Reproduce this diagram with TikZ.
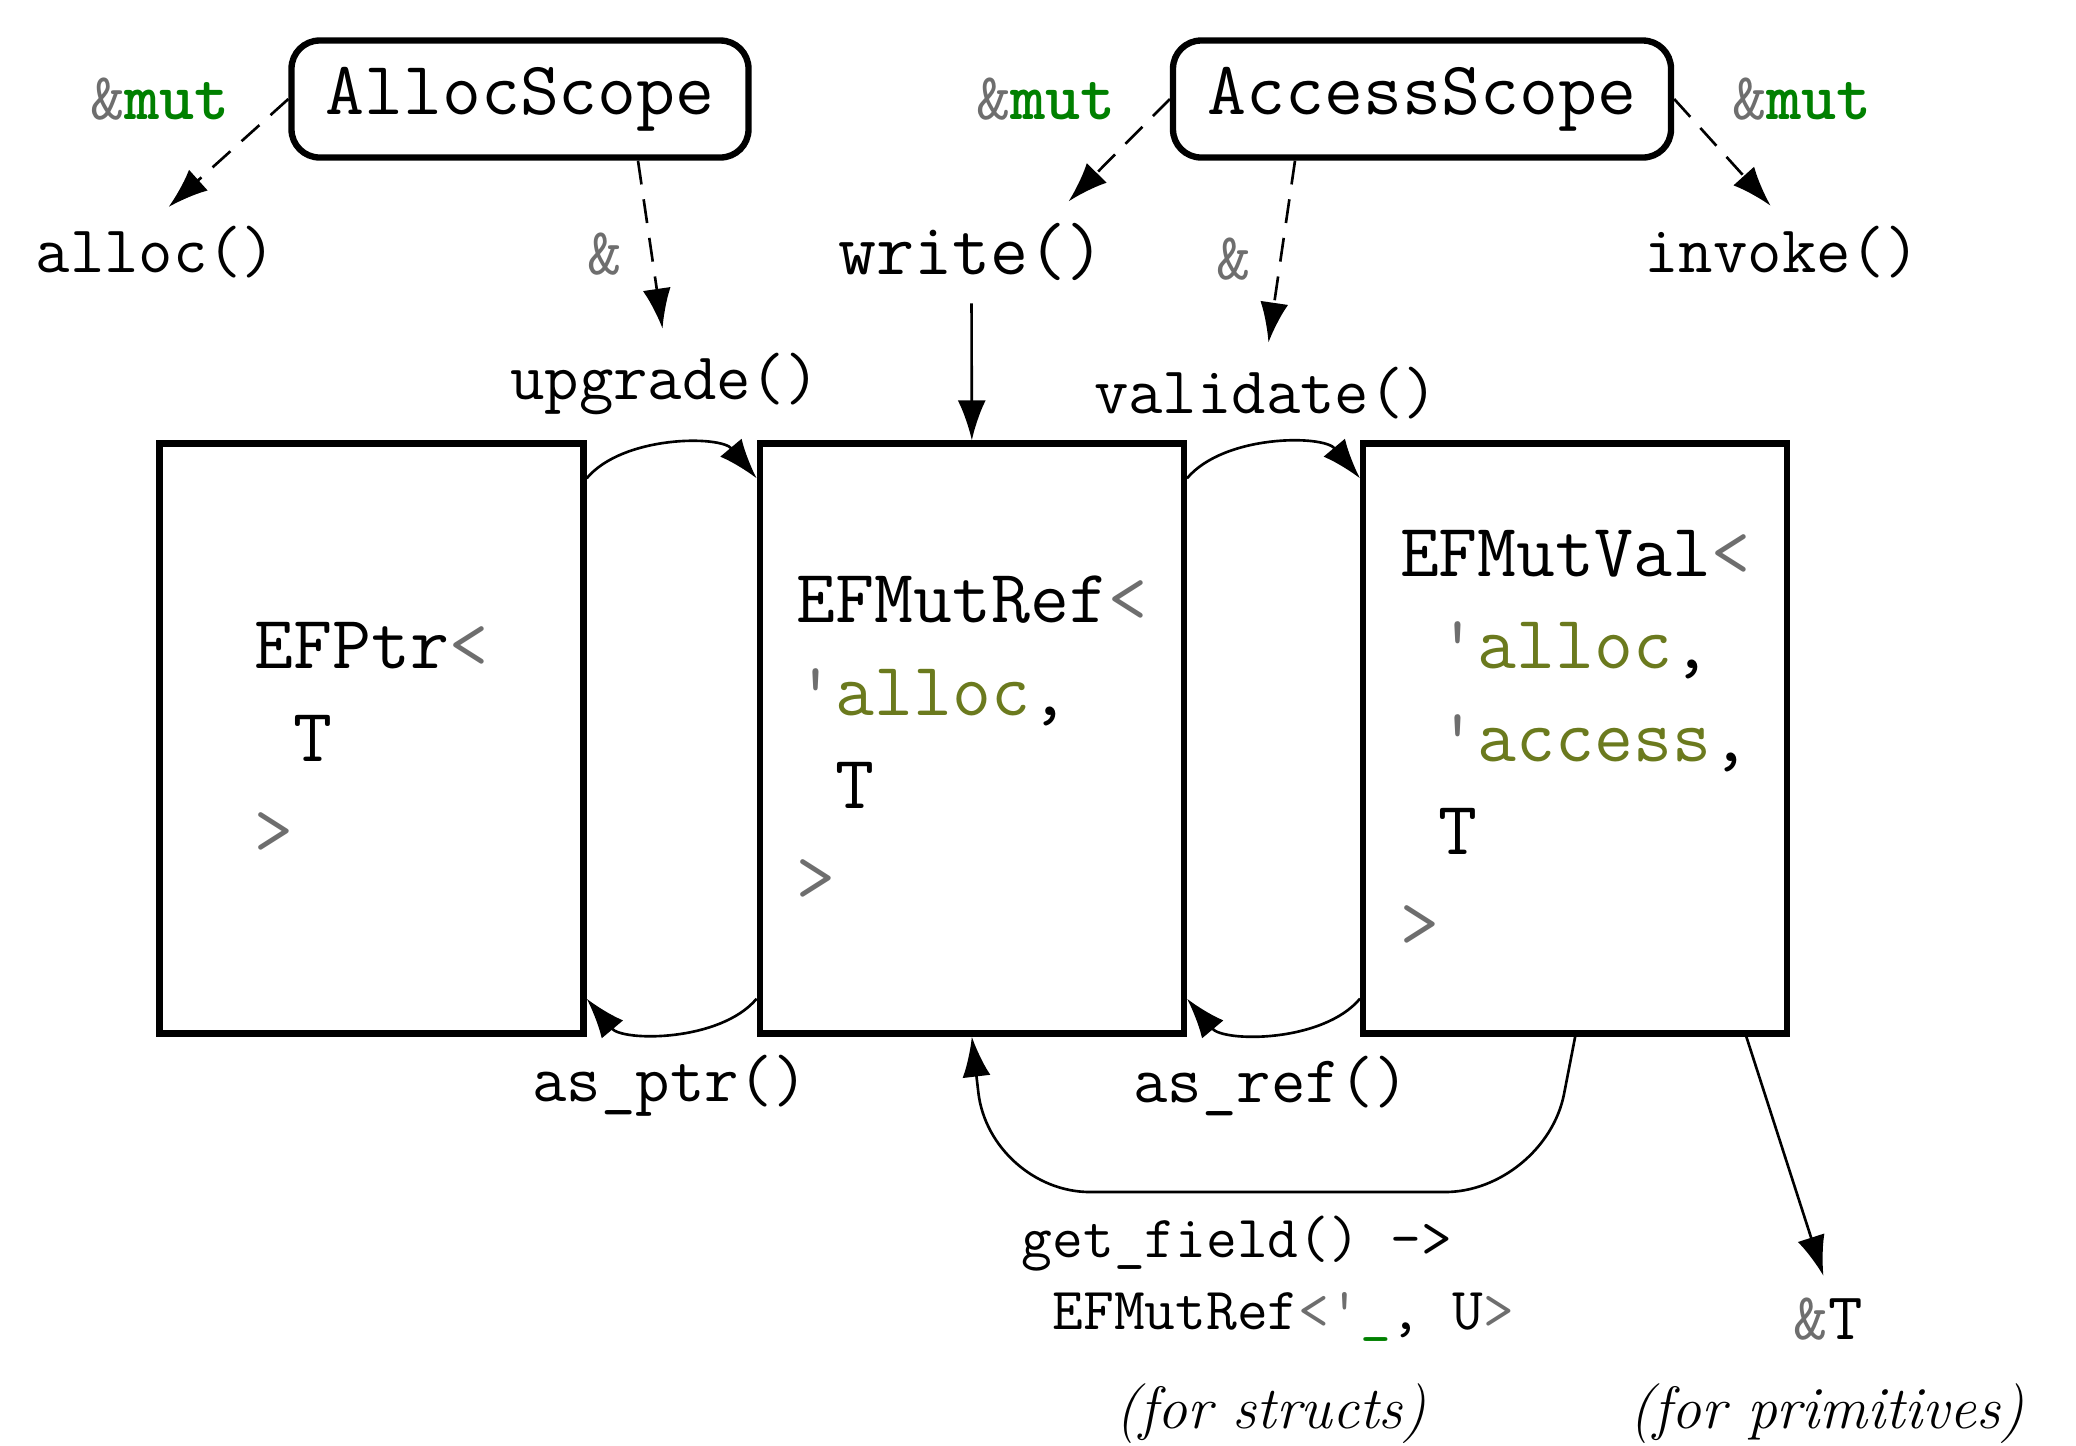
\documentclass[tikz,border=0pt]{standalone}
\usetikzlibrary{arrows.meta, positioning}

\definecolor{codegray}{RGB}{110,110,110}
\definecolor{codegreen}{RGB}{0,128,0}
\definecolor{codeolive}{RGB}{107,122,30}

\newcommand{\tyopen}{\textcolor{codegray}{<}}
\newcommand{\tyclose}{\textcolor{codegray}{>}}
\newcommand{\tyind}{\hphantom{x}}
\newcommand{\lifetime}[1]{\textcolor{codegray}{\textquotesingle}\textcolor{codeolive}{#1}}
\newcommand{\refamp}{\textcolor{codegray}{\&}}
\newcommand{\refmut}{\refamp\textcolor{codegreen}{\bfseries mut}}

\begin{document}
\begin{tikzpicture}[
    >=Latex,
    font=\fontsize{19}{23}\selectfont\ttfamily,
    % Style definitions
    typebox/.style={draw, line width=1.8pt, minimum width=4.24cm, minimum height=5.9cm, align=left, font=\fontsize{21.5}{26.4}\selectfont\ttfamily},
    scopebox/.style={draw, line width=1.8pt, rounded corners=8pt, minimum height=1.17cm, font=\fontsize{21.5}{26}\selectfont\ttfamily},
    method/.style={font=\fontsize{19}{23}\selectfont\ttfamily, inner sep=2pt},
    note/.style={font=\fontsize{17}{20.5}\selectfont\ttfamily, align=left, inner sep=0pt},
    comment/.style={font=\fontsize{17}{20}\selectfont\rmfamily\itshape},
    arrow/.style={->, line width=0.75pt, >={Latex[length=0.4cm, width=0.28cm]}},
    dasharrow/.style={arrow, dash pattern=on 0.24cm off 0.15cm},
]
\useasboundingbox (0,0) rectangle (20.76,-14.45);

%% ---------- SCOPES ----------
\node[scopebox, minimum width=4.57cm] (allocscope) at (5.20,-0.99) {AllocScope};
\node[scopebox, minimum width=4.98cm] (accessscope) at (14.22,-0.99) {AccessScope};

%% ---------- TYPES ----------
\node[typebox] (efptr) at (3.715,-7.385) {EFPtr\tyopen\\\tyind T\\\tyclose};
\node[typebox, right=1.70cm of efptr] (efmutref) {EFMutRef\tyopen\\\lifetime{alloc},\\\tyind T\\\tyclose};
\node[typebox, right=1.73cm of efmutref] (efmutval) {EFMutVal\tyopen\\\tyind\lifetime{alloc},\\\tyind\lifetime{access},\\\tyind T\\\tyclose};

%% ---------- METHODS ----------
\node[method] (alloc) at (1.56,-2.52) {alloc()};
\node[method, font=\fontsize{21}{25}\selectfont\ttfamily] (write) at (9.715,-2.52) {write()};
\node[method] (invoke) at (17.82,-2.52) {invoke()};
\node[method] (upgrade) at (6.65,-3.84) {upgrade()};
\node[method] (validate) at (12.66,-3.93) {validate()};
\node[method] (asptr) at (6.70,-10.86) {as\_ptr()};
\node[method] (asref) at (12.71,-10.86) {as\_ref()};
\node[note, anchor=west] (getfield) at (10.21,-12.79) {get\_field() ->\\\tyind EFMutRef\tyopen\textcolor{codegray}{\textquotesingle}\textcolor{codegreen}{\_}, U\tyclose};
\node[method] (ampt) at (18.28,-13.19) {\refamp T};
\node[comment] (forstructs) at (12.71,-14.14) {(for structs)};
\node[comment] (forprims) at (18.27,-14.14) {(for primitives)};

%% ---------- BORROW KINDS ----------
\node[method] (allocmut) at (1.60,-0.99) {\refmut};
\node[method] (writemut) at (10.46,-0.99) {\refmut};
\node[method] (invokemut) at (18.02,-0.99) {\refmut};
\node[method] (upgradeamp) at (6.05,-2.54) {\refamp};
\node[method] (validateamp) at (12.34,-2.59) {\refamp};

%% ========== ARROWS ==========

% Scopes to methods
\draw[dasharrow, shorten >=0.17cm] (allocscope.west) -- (alloc.north);
\draw[dasharrow, shorten >=0.17cm] ([xshift=1.18cm]allocscope.south) -- (upgrade.north);
\draw[dasharrow, shorten >=0.2cm] (accessscope.west) -- ([xshift=0.83cm]write.north);
\draw[dasharrow, shorten >=0.17cm] ([xshift=-1.27cm]accessscope.south) -- (validate.north);
\draw[dasharrow, shorten >=0.17cm] (accessscope.east) -- (invoke.north);
\draw[arrow, shorten <=0.15cm] (write.south) -- (efmutref.north);

% Conversions between types
\draw[arrow] ([yshift=-0.38cm]efptr.north east) to[bend left=50, looseness=0.85] ([yshift=-0.38cm]efmutref.north west);
\draw[arrow] ([yshift=-0.38cm]efmutref.north east) to[bend left=50, looseness=0.85] ([yshift=-0.38cm]efmutval.north west);
\draw[arrow] ([yshift=0.38cm]efmutref.south west) to[bend left=50, looseness=0.85] ([yshift=0.38cm]efptr.south east);
\draw[arrow] ([yshift=0.38cm]efmutval.south west) to[bend left=50, looseness=0.85] ([yshift=0.38cm]efmutref.south east);

% Field access and primitives
\coordinate (fieldR) at (15.45,-11.92);
\coordinate (fieldL) at (9.90,-11.92);
\draw[arrow, rounded corners=1cm] (efmutval.south) -- (fieldR) -- (fieldL) -- (efmutref.south);
\draw[arrow, shorten >=0.15cm] ([xshift=-0.44cm]efmutval.south east) -- (ampt.north);

\end{tikzpicture}
\end{document}
